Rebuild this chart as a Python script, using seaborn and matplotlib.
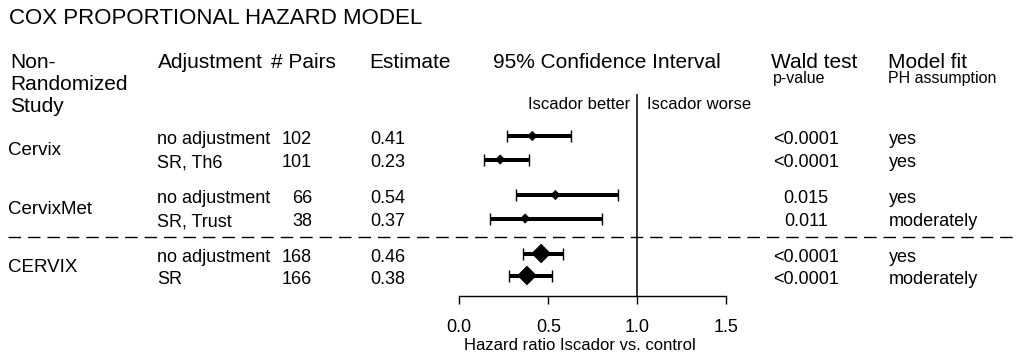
import numpy as np
import pandas as pd
import matplotlib
matplotlib.use("Agg")
import matplotlib.pyplot as plt
from matplotlib.lines import Line2D
import seaborn as sns

# ---------------- data ----------------
title = "COX PROPORTIONAL HAZARD MODEL"
studies = ["Cervix", "CervixMet", "CERVIX"]
adjustments = ["no adjustment", "SR, Th6", "no adjustment", "SR, Trust", "no adjustment", "SR"]
pairs = [102, 101, 66, 38, 168, 166]
estimates = [0.41, 0.23, 0.54, 0.37, 0.46, 0.38]
ci_low = [0.27, 0.14, 0.32, 0.17, 0.36, 0.28]
ci_high = [0.63, 0.39, 0.89, 0.80, 0.58, 0.52]
p_values = ["<0.0001", "<0.0001", "0.015", "0.011", "<0.0001", "<0.0001"]
ph_fit = ["yes", "yes", "yes", "moderately", "yes", "moderately"]
kind = ["study", "study", "study", "study", "pooled", "pooled"]
xticks = [0.0, 0.5, 1.0, 1.5]
xtick_labels = ["0.0", "0.5", "1.0", "1.5"]
xlabel = "Hazard ratio Iscador vs. control"

# ---------------- layout (pixels) ----------------
W, H = 1017, 358
row_y = [136.0, 159.5, 195.0, 218.5, 253.5, 275.5]

sns.set_style("white")
plt.rcParams["font.family"] = ["Liberation Sans", "DejaVu Sans"]

fig = plt.figure(figsize=(W / 100, H / 100), dpi=100)


def fx(x):
    return x / W


def fy(y):
    return 1 - y / H


x0_px, x15_px = 459.3, 726.3
ax_top, ax_bot = 94, 296
ax = fig.add_axes([fx(x0_px), fy(ax_bot), (x15_px - x0_px) / W, (ax_bot - ax_top) / H])

df = pd.DataFrame(dict(est=estimates, lo=ci_low, hi=ci_high, y=row_y, kind=kind))

ax.errorbar(df["est"], df["y"],
            xerr=[df["est"] - df["lo"], df["hi"] - df["est"]],
            fmt="none", ecolor="black", elinewidth=2.9, capsize=4.5, capthick=1.0, zorder=2)
sns.scatterplot(data=df, x="est", y="y", size="kind", sizes={"study": 22, "pooled": 90},
                marker="D", color="black", edgecolor="black", linewidth=0.5,
                legend=False, ax=ax, zorder=3)

ax.axvline(1.0, color="black", lw=1.1, zorder=1)
ax.set_xlim(0, 1.5)
ax.set_ylim(ax_bot, ax_top)
ax.set_xlabel("")
ax.set_ylabel("")
ax.set_yticks([])
ax.set_xticks(xticks)
ax.set_xticklabels(xtick_labels)
ax.tick_params(axis="x", direction="out", length=6, width=1, labelsize=13, pad=10.5,
               colors="black", bottom=True)
sns.despine(ax=ax, left=True, top=True, right=True)
ax.spines["bottom"].set_color("black")
ax.spines["bottom"].set_linewidth(1)
ax.patch.set_alpha(0)

# dashed separator
fig.add_artist(Line2D([fx(8), 1.0], [fy(237), fy(237)], transform=fig.transFigure,
                      color="black", lw=1, ls=(0, (9, 5))))

# ---------------- text ----------------
def t(x, y, s, size, ha="left", va="baseline"):
    fig.text(fx(x), fy(y), s, fontsize=size, ha=ha, va=va, color="black")

t(9, 24, title, 16)
hdr_y = 68
t(10, hdr_y, "Non-", 15)
t(10, hdr_y + 22, "Randomized", 15)
t(10, hdr_y + 44, "Study", 15)
t(158, hdr_y, "Adjustment", 15)
t(271, hdr_y, "# Pairs", 15)
t(369, hdr_y, "Estimate", 15)
t(607, hdr_y, "95% Confidence Interval", 15, ha="center")
t(771, hdr_y, "Wald test", 15)
t(888, hdr_y, "Model fit", 15)
t(773, hdr_y + 15, "p-value", 11.5)
t(888, hdr_y + 15, "PH assumption", 11.5)
t(630, 109, "Iscador better", 12, ha="right")
t(647, 109, "Iscador worse", 12)

for i in range(len(adjustments)):
    yb = row_y[i] + 8
    t(157, yb, adjustments[i], 13)
    t(312, yb, str(pairs[i]), 13, ha="right")
    t(370, yb, f"{estimates[i]:.2f}", 13)
    t(806, yb, p_values[i], 13, ha="center")
    t(889, yb, ph_fit[i], 13)

for j, s in enumerate(studies):
    yc = (row_y[2 * j] + row_y[2 * j + 1]) / 2 + 7
    t(8, yc, s, 13.5)

t(580, 350, xlabel, 12, ha="center")

fig.savefig("out.png", dpi=100)
